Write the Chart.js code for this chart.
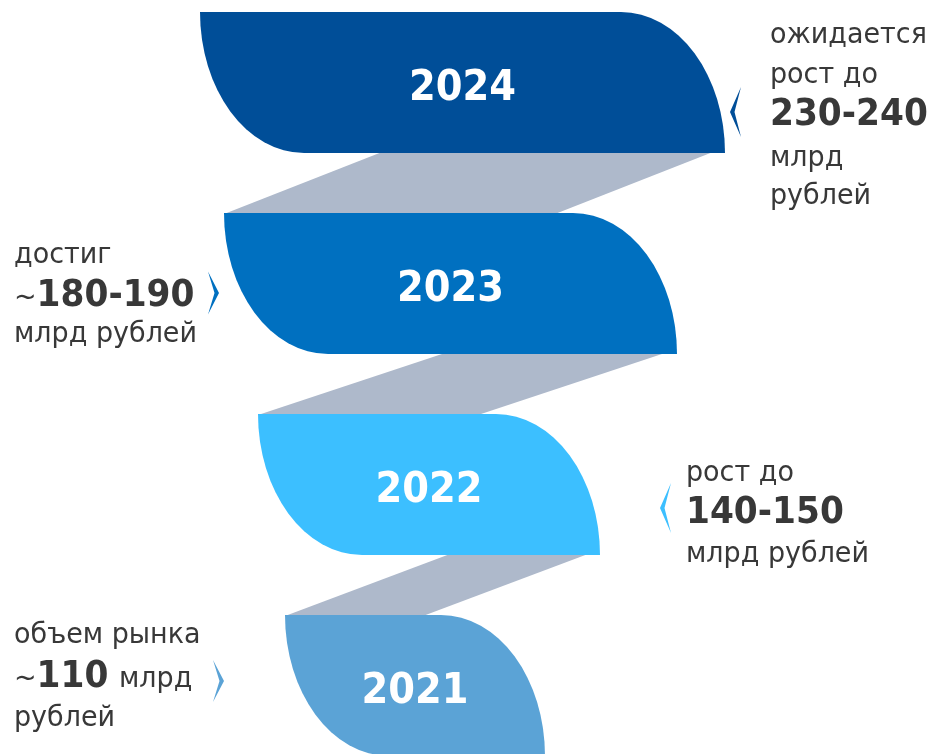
<!DOCTYPE html>
<html>
<head>
<meta charset="utf-8">
<script src="https://cdn.jsdelivr.net/npm/chart.js@4.4.0/dist/chart.umd.min.js"></script>
<style>
html, body { margin:0; padding:0; background:#fff; overflow:hidden; }
#wrap { position:relative; width:933px; height:754px; overflow:hidden; }
#myChart { position:absolute; left:0; top:-18px; }
</style>
</head>
<body>
<div id="wrap"><canvas id="myChart" width="933" height="804"></canvas></div>
<script>
// данные: годы, объём рынка (млрд руб), границы полос воронки
const years = ['2024', '2023', '2022', '2021'];
const marketLow = [230, 180, 140, 110];
const marketHigh = [240, 190, 150, null];
const bandStart = [200, 224, 258, 285];
const bandEnd = [725, 677, 600, 545];
const noteTexts = [
	['ожидается', 'рост до', '{v}', 'млрд', 'рублей'],
	['достиг', '~{v}', 'млрд рублей'],
	['рост до', '{v}', 'млрд рублей'],
	['объем рынка', '~{v} млрд', 'рублей']
];

const bandColors = ['#004e98', '#0070c0', '#3cbfff', '#5ba3d6'];

// расположение подписей (x, базовые линии относительно центра полосы, стрелка)
const noteLayout = [
	{ x: 770, lines: [-39.5, 0.5, 42.5, 83.5, 121], arrow: { x: 730, dy: 29.5, h: 50, dir: -1 } },
	{ x: 14, lines: [-20.5, 22.5, 58.5], arrow: { x: 219, dy: 9.5, h: 43, dir: 1 } },
	{ x: 686, lines: [-4, 38.5, 77], arrow: { x: 660, dy: 23.5, h: 50, dir: -1 } },
	{ x: 14, lines: [-42.5, 1.5, 40], arrow: { x: 224, dy: -4.5, h: 42, dir: 1 } }
];

function rangeText(i){
	return marketHigh[i] == null ? String(marketLow[i]) : marketLow[i] + '-' + marketHigh[i];
}

// текст с горизонтальным сжатием (под Tahoma)
function drawText(ctx, t, x, y, font, sx){
	ctx.save();
	ctx.font = font;
	ctx.translate(x, y);
	ctx.scale(sx, 1);
	ctx.fillText(t, 0, 0);
	const w = ctx.measureText(t).width * sx;
	ctx.restore();
	return w;
}

const REG = '29px "DejaVu Sans"';
const BOLD = 'bold 38px "DejaVu Sans"';

const funnelPlugin = {
	id: 'funnel',
	beforeDatasetsDraw(chart){
		const ctx = chart.ctx;
		const bars = chart.getDatasetMeta(0).data.map(b => b.getProps(['x', 'y', 'base', 'height'], true));
		const box = bars.map(b => ({ L: Math.min(b.base, b.x), R: Math.max(b.base, b.x), T: b.y - b.height / 2, B: b.y + b.height / 2, cy: b.y }));

		// серые перемычки
		ctx.save();
		ctx.fillStyle = '#aeb9cb';
		for (let i = 0; i < box.length - 1; i++){
			const a = box[i], n = box[i + 1];
			const w = (n.R - n.L) - 122;
			const tr = a.R - 12;
			ctx.beginPath();
			ctx.moveTo(tr - w, a.B - 1);
			ctx.lineTo(tr, a.B - 1);
			ctx.lineTo(n.L + w, n.T + 1);
			ctx.lineTo(n.L, n.T + 1);
			ctx.closePath();
			ctx.fill();
		}

		// полосы-лепестки
		const rx = 104;
		box.forEach((b, i) => {
			const h = b.B - b.T;
			ctx.fillStyle = bandColors[i];
			ctx.beginPath();
			ctx.moveTo(b.L, b.T);
			ctx.lineTo(b.R - rx, b.T);
			ctx.ellipse(b.R - rx, b.B, rx, h, 0, -Math.PI / 2, 0);
			ctx.lineTo(b.L + rx, b.B);
			ctx.ellipse(b.L + rx, b.T, rx, h, 0, Math.PI / 2, Math.PI);
			ctx.closePath();
			ctx.fill();

			ctx.fillStyle = '#ffffff';
			ctx.textAlign = 'center';
			ctx.textBaseline = 'alphabetic';
			drawText(ctx, years[i], (b.L + b.R) / 2, b.cy + 17, 'bold 42px "DejaVu Sans"', 0.915);
		});

		// подписи и стрелки
		box.forEach((b, i) => {
			const lay = noteLayout[i];
			ctx.textAlign = 'left';
			ctx.fillStyle = '#383838';
			noteTexts[i].forEach((line, k) => {
				const parts = line.split('{v}');
				let x = lay.x;
				const y = b.cy + lay.lines[k];
				parts.forEach((p, j) => {
					if (p) x += drawText(ctx, p, x, y, REG, 0.93);
					if (j < parts.length - 1) x += drawText(ctx, rangeText(i), x, y, BOLD, 0.905) + 2;
				});
			});

			const ar = lay.arrow;
			const my = b.cy + ar.dy, w = 11;
			const bx = ar.x - ar.dir * w;
			ctx.fillStyle = bandColors[i];
			ctx.beginPath();
			ctx.moveTo(bx, my - ar.h / 2);
			ctx.lineTo(ar.x, my);
			ctx.lineTo(bx, my + ar.h / 2);
			ctx.lineTo(ar.x - ar.dir * 4.5, my);
			ctx.closePath();
			ctx.fill();
		});
		ctx.restore();
	}
};

const ctx = document.getElementById('myChart');
new Chart(ctx, {
	type: 'bar',
	data: {
		labels: years,
		datasets: [{
			label: 'объем рынка',
			data: years.map((y, i) => [bandStart[i], bandEnd[i]]),
			backgroundColor: 'rgba(0,0,0,0)',
			barThickness: 141
		}]
	},
	options: {
		indexAxis: 'y',
		responsive: false,
		animation: false,
		layout: { padding: 0 },
		plugins: { legend: { display: false }, tooltip: { enabled: false } },
		scales: {
			x: { type: 'linear', min: 0, max: 933, display: false },
			y: { display: false, offset: true }
		}
	},
	plugins: [funnelPlugin]
});
</script>
</body>
</html>
